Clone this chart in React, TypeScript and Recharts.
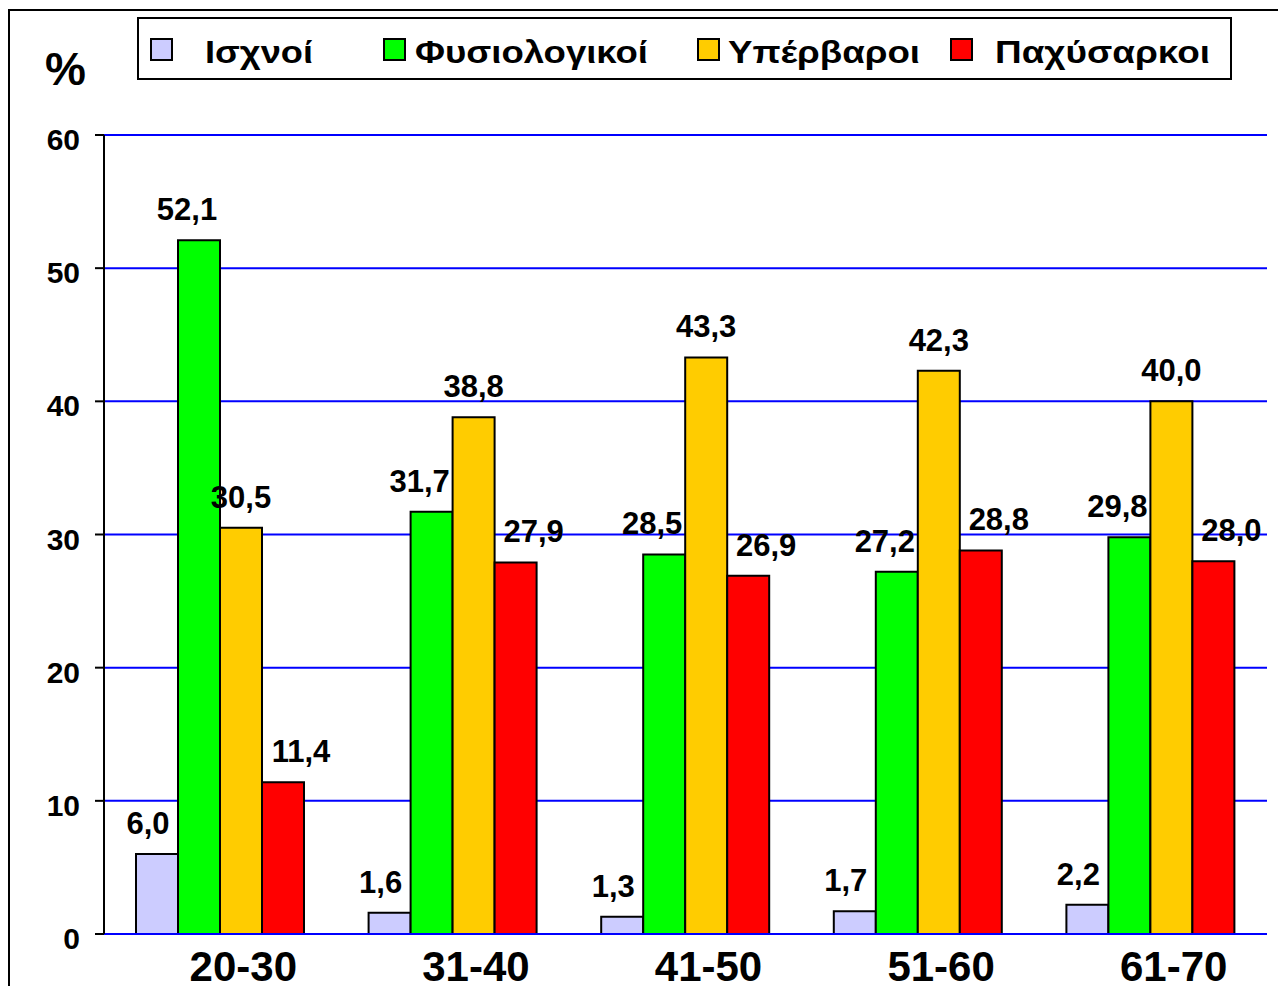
import React from 'react';
import { BarChart, Bar, XAxis, YAxis, CartesianGrid, LabelList } from 'recharts';

const categories = ['20-30', '31-40', '41-50', '51-60', '61-70'];
const isxnoi = [6.0, 1.6, 1.3, 1.7, 2.2];
const fysiologikoi = [52.1, 31.7, 28.5, 27.2, 29.8];
const yperbaroi = [30.5, 38.8, 43.3, 42.3, 40.0];
const paxysarkoi = [11.4, 27.9, 26.9, 28.8, 28.0];
const yTicks = [0, 10, 20, 30, 40, 50, 60];

const seriesNames = ['Ισχνοί', 'Φυσιολογικοί', 'Υπέρβαροι', 'Παχύσαρκοι'];
const seriesColors = ['#CCCCFF', '#00FF00', '#FFCC00', '#FF0000'];
const seriesKeys = ['isxnoi', 'fysiologikoi', 'yperbaroi', 'paxysarkoi'];
const labelDx = [-9, -12, 0, 18];

const legendMarkerX = [151, 384, 698, 951];
const legendTextX = [205, 415, 728, 995];
const legendTextW = [108, 233, 192, 215];

const data = categories.map((c, i) => ({
  cat: c,
  isxnoi: isxnoi[i],
  fysiologikoi: fysiologikoi[i],
  yperbaroi: yperbaroi[i],
  paxysarkoi: paxysarkoi[i],
}));

const FONT = '"Liberation Sans", Arial, sans-serif';
const fmt = (v: any) => Number(v).toFixed(1).replace('.', ',');

const XTick = (props: any) => {
  const { x, y, payload } = props;
  return (
    <text x={x + 23} y={y + 47} textAnchor="middle" fontFamily={FONT} fontWeight="bold" fontSize={42} fill="#000">
      {payload.value}
    </text>
  );
};

const YTick = (props: any) => {
  const { x, y, payload } = props;
  return (
    <text x={x} y={y + 15} textAnchor="end" fontFamily={FONT} fontWeight="bold" fontSize={30} fill="#000">
      {payload.value}
    </text>
  );
};

export default function App() {
  return (
    <div style={{ position: 'absolute', left: 0, top: 0, width: 1278, height: 986, overflow: 'hidden', background: '#fff' }}>
      <BarChart
        width={1278}
        height={986}
        data={data}
        margin={{ top: 135, right: 11, bottom: 0, left: 44 }}
        barCategoryGap={32}
        barGap={0}
      >
        <CartesianGrid vertical={false} stroke="#0000FF" strokeWidth={2} />
        <XAxis
          dataKey="cat"
          height={52}
          tickSize={0}
          tickMargin={0}
          tickLine={false}
          axisLine={{ stroke: '#0000FF', strokeWidth: 2 }}
          tick={<XTick />}
          interval={0}
        />
        <YAxis
          width={60}
          domain={[0, 60]}
          ticks={yTicks}
          tickSize={9}
          tickMargin={15}
          tickLine={{ stroke: '#000', strokeWidth: 2 }}
          axisLine={{ stroke: '#000', strokeWidth: 2 }}
          tick={<YTick />}
          interval={0}
        />
        <YAxis
          yAxisId="right"
          orientation="right"
          width={0}
          domain={[0, 60]}
          ticks={yTicks}
          tick={false}
          tickLine={false}
          axisLine={{ stroke: '#0000FF', strokeWidth: 2 }}
        />
        {seriesKeys.map((k, i) => (
          <Bar
            key={k}
            dataKey={k}
            name={seriesNames[i]}
            fill={seriesColors[i]}
            stroke="#000"
            strokeWidth={2}
            isAnimationActive={false}
          >
            <LabelList
              dataKey={k}
              position="top"
              offset={20}
              dx={labelDx[i]}
              formatter={fmt}
              style={{ fontFamily: FONT, fontWeight: 'bold', fontSize: 31, fill: '#000' }}
            />
          </Bar>
        ))}
      </BarChart>
      <svg width={1278} height={986} style={{ position: 'absolute', left: 0, top: 0, pointerEvents: 'none' }}>
        <rect x={9} y={10} width={1400} height={1100} fill="none" stroke="#000" strokeWidth={2} />
        <text x={45} y={85} fontFamily={FONT} fontWeight="bold" fontSize={46} fill="#000">%</text>
        <rect x={138} y={18} width={1093} height={61} fill="#fff" stroke="#000" strokeWidth={2} />
        {seriesNames.map((n, i) => (
          <g key={n}>
            <rect x={legendMarkerX[i]} y={39} width={21} height={21} fill={seriesColors[i]} stroke="#000" strokeWidth={2} />
            <text
              x={legendTextX[i]}
              y={63}
              fontFamily={FONT}
              fontWeight="bold"
              fontSize={31}
              fill="#000"
              textLength={legendTextW[i]}
              lengthAdjust="spacingAndGlyphs"
            >
              {n}
            </text>
          </g>
        ))}
      </svg>
    </div>
  );
}
